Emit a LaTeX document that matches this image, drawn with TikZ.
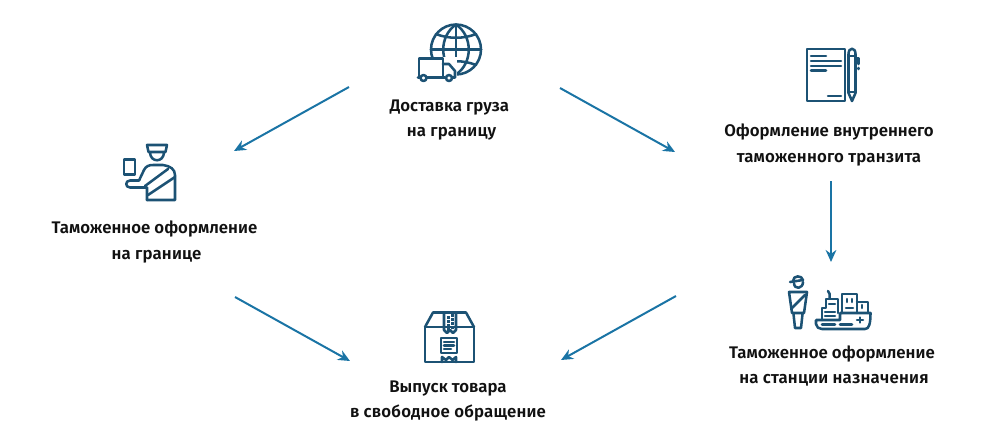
\documentclass[tikz,border=0pt]{standalone}
\usepackage{fontspec}
\setmainfont{Fira Sans}[BoldFont={Fira Sans SemiBold}]
\definecolor{arrowc}{HTML}{1A74A5}
\definecolor{iconc}{HTML}{1C5274}
\definecolor{textc}{HTML}{111111}
\usetikzlibrary{arrows.meta}
\newcommand{\wide}[1]{{\addfontfeature{LetterSpace=1.2}#1}}
\tikzset{
  flow/.style={draw=arrowc,line width=1.5pt,-{Stealth[length=9pt,width=8pt]}},
  label/.style={align=center,font=\fontsize{12.6pt}{18.8pt}\selectfont\bfseries,text=textc,inner sep=0pt},
  ic/.style={draw=iconc,line width=1.9pt,line join=round,line cap=round},
}
\begin{document}
\begin{tikzpicture}[x=0.75pt,y=-0.75pt]
\useasboundingbox (0,0) rectangle (987,444);
% labels
\node[label] (deliv) at (449.5,120) {Доставка груза\\\hspace*{3pt}\wide{на границу}};
\node[label] (trans) at (829,145) {Оформление внутреннего\\\wide{таможенного транзита}};
\node[label] (border) at (154.5,242) {Таможенное оформление\\\hspace*{3pt}\wide{на границе}};
\node[label] (station) at (832,366) {Таможенное оформление\\\hspace*{3pt}\wide{на станции назначения}};
\node[label] (release) at (448,401) {Выпуск товара\\\wide{в свободное обращение}};
% connector ends
\coordinate (a1) at (349,87); \coordinate (a2) at (234,151);
\coordinate (b1) at (560,88); \coordinate (b2) at (675,152);
\coordinate (c1) at (831,181); \coordinate (c2) at (831,262);
\coordinate (d1) at (235,297); \coordinate (d2) at (350,361);
\coordinate (e1) at (676,296); \coordinate (e2) at (561,360);
\draw[flow] (a1) -- (a2);
\draw[flow] (b1) -- (b2);
\draw[flow] (c1) -- (c2);
\draw[flow] (d1) -- (d2);
\draw[flow] (e1) -- (e2);
% globe + truck
\draw[ic] (456,49.5) circle (25);
\draw[ic] (456,24.5) .. controls (439,36) and (439,63) .. (456,74.5);
\draw[ic] (456,24.5) .. controls (473,36) and (473,63) .. (456,74.5);
\draw[ic] (456,24.5) -- (456,74.5);
\draw[ic] (431,49.5) -- (481,49.5);
\draw[ic] (436,34) .. controls (448,39) and (464,39) .. (476,34);
\draw[ic] (436,65) .. controls (448,60) and (464,60) .. (476,65);
\fill[white] (417,57) rectangle (457,83);
\draw[ic] (419,77) -- (419,58.5) -- (443,58.5) -- (443,77);
\draw[ic] (443,64) -- (449,64) -- (455,71) -- (455,77.5) -- (452.5,77.5);
\draw[ic] (418,77.5) -- (420,77.5) (427,77.5) -- (445,77.5);
\draw[ic] (423.5,78) circle (3);
\draw[ic] (449,78) circle (3);
% document + pen
\draw[ic] (807,49) rectangle (845,101);
\draw[ic] (811,56) -- (826,56);
\draw[ic] (811,61) -- (841,61);
\draw[ic] (811,66) -- (841,66);
\draw[ic] (811,70.5) -- (826,70.5);
\draw[ic] (828,96) -- (841,96);
\draw[ic] (848.5,54) .. controls (848.5,47) and (855.5,47) .. (855.5,54) -- (855.5,93) -- (852,101) -- (848.5,93) -- cycle;
\draw[ic] (848.5,56) -- (855.5,56) (848.5,92) -- (855.5,92);
\draw[ic] (855.5,58) -- (858.5,58) -- (858.5,64) (858.5,68) -- (858.5,69);
% officer
\draw[ic] (147,145) -- (167,145) -- (165.5,152) -- (148.5,152) -- cycle;
\draw[ic] (150,152) .. controls (150,163) and (164,163) .. (164,152);
\draw[ic] (124,159.5) rectangle (135,174.5);
\draw[ic] (147,200) -- (147,187.5) -- (130,187.5) .. controls (125,187.5) and (125,180.5) .. (130,180.5) -- (139,180.5);
\draw[ic] (139,180.5) -- (144,170) .. controls (146,166) and (149,165) .. (153,165) -- (163,165) .. controls (170,166) and (175,169) .. (175,175) -- (175,200) -- (147,200);
\draw[ic] (145,186) -- (168,169);
\draw[ic] (148,195) -- (175,177);
% inspector + ship
\draw[ic] (793,281) .. controls (793,275) and (802,275) .. (803,280) -- (790,282);
\draw[ic] (794,283) .. controls (794,290) and (803,289) .. (803,282);
\draw[ic] (789,292) -- (807,292) -- (804,313) -- (792,313) -- cycle;
\draw[ic] (791,309) -- (805,295);
\draw[ic] (793.5,314) -- (795,328) -- (801,328) -- (802.5,314);
\draw[ic] (816,320) -- (816,324) .. controls (816,327) and (819,329) .. (822,329) -- (865,329) .. controls (869,329) and (870.5,324) .. (870.5,313) -- (840,313) -- (840,320) -- cycle;
\draw[ic] (822,324.5) -- (835,324.5) (840,324.5) -- (852,324.5);
\draw[ic] (857,320) -- (863,320) (860,317.5) -- (860,322.5);
\draw[ic] (822,320) -- (822,308) -- (826,308) -- (826,299) -- (838,299) -- (838,313);
\draw[ic] (829,304) -- (835,304) (825,312) -- (835,312) (825,316) -- (835,316);
\draw[ic] (829.5,298) .. controls (831,295) and (829,293) .. (828,291);
\draw[ic] (842,313) -- (842,294) -- (857,294) -- (857,313);
\draw[ic] (847,299) -- (847,302) (852,299) -- (852,302);
\draw[ic] (846,308) -- (853,308);
\draw[ic] (857,302) -- (868,302) -- (868,313);
\draw[ic] (862,305) -- (862,308);
% box
\draw[ic] (425,327) rectangle (474,362);
\draw[ic] (425,327) -- (433,312.5) -- (466,312.5) -- (474,327);
\draw[ic] (444,312.5) -- (444,330) -- (447,333) -- (450,330) -- (453,333) -- (456,330) -- (456,312.5);
\foreach \yy in {316,320,324,328}{\fill[iconc] (447,\yy) rectangle +(2.5,2.5); \fill[iconc] (451,\yy-2) rectangle +(2.5,2.5);}
\draw[ic] (441,338) rectangle (457,353);
\draw[ic] (444,342) -- (454,342) (444,345.5) -- (454,345.5) (444,349) -- (451,349);
\draw[ic] (442,362) -- (442,357) -- (446,360) -- (449,357) -- (452.5,360) -- (456,357) -- (456,362);
\end{tikzpicture}
\end{document}
